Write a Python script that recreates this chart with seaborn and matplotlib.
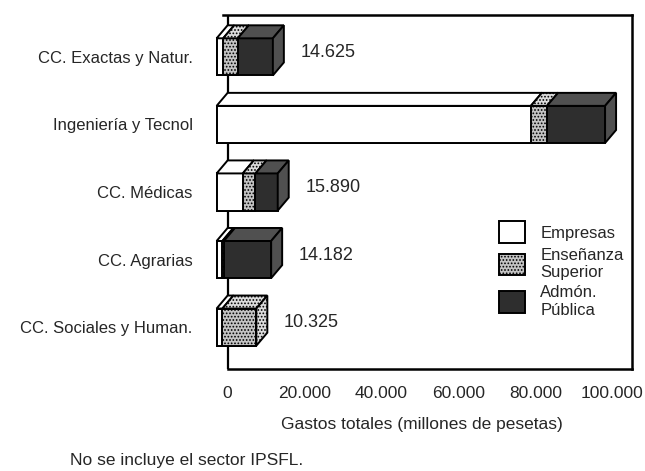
import numpy as np
import pandas as pd
import seaborn as sns
import matplotlib
matplotlib.use("Agg")
import matplotlib.pyplot as plt
from matplotlib.patches import Polygon, Patch
from matplotlib.transforms import ScaledTranslation

# data (millones de pesetas)
categorias = ["CC. Exactas y Natur.", "Ingeniería y Tecnol", "CC. Médicas",
              "CC. Agrarias", "CC. Sociales y Human."]
empresas = [1700, 81700, 6800, 1500, 1500]
ensenanza = [3800, 4200, 3300, 400, 8825]
admon = [9125, 15100, 5790, 12282, 0]
etiquetas = ["14.625", "", "15.890", "14.182", "10.325"]
xticks = [0, 20000, 40000, 60000, 80000, 100000]
xticklabels = ["0", "20.000", "40.000", "60.000", "80.000", "100.000"]
series = ["Empresas", "Enseñanza\nSuperior", "Admón.\nPública"]

colores = ["white", "#c4c4c4", "#2e2e2e"]
tapas = ["white", "#dcdcdc", "#505050"]

sns.set_style("white")
plt.rcParams['font.family'] = ['Liberation Sans', 'DejaVu Sans']
plt.rcParams['hatch.color'] = "#7a7a7a"
plt.rcParams['hatch.linewidth'] = 0.8

df = pd.DataFrame({"cat": categorias, "emp": empresas, "ens": ensenanza, "adm": admon})
df["c1"] = df["emp"]
df["c2"] = df["emp"] + df["ens"]
df["c3"] = df["c2"] + df["adm"]

fig = plt.figure(figsize=(6.45, 4.71), dpi=100)
ax = fig.add_axes([212/645, (471-369)/471, (632-212)/645, 354/471])
W = 0.55

# stacked bars, drawn from total down
for col, c, h in [("c3", colores[2], None), ("c2", colores[1], "....."), ("c1", colores[0], None)]:
    sns.barplot(data=df, x=col, y="cat", orient="h", color=c, width=W,
                edgecolor="black", linewidth=1.4, hatch=h, ax=ax, zorder=3,
                saturation=1)

ax.set_xlim(-1200, 108000)
ax.set_ylim(4.62, -0.62)

# 3D depth (pixels -> data)
fig.canvas.draw()
px_x = ax.bbox.width / (ax.get_xlim()[1] - ax.get_xlim()[0])
px_y = ax.bbox.height / (ax.get_ylim()[0] - ax.get_ylim()[1])
dx = 11 / px_x
dy = 13 / px_y

for i in range(len(categorias)):
    bordes = [0, df["c1"][i], df["c2"][i], df["c3"][i]]
    yt = i - W / 2
    yb = i + W / 2
    for k in range(3):
        a, b = bordes[k], bordes[k + 1]
        if b - a <= 0:
            continue
        top = Polygon([(a, yt), (b, yt), (b + dx, yt - dy), (a + dx, yt - dy)],
                      closed=True, facecolor=tapas[k], edgecolor="black", lw=1.4,
                      hatch="....." if k == 1 else None, zorder=4)
        ax.add_patch(top)
    T = bordes[-1]
    kl = max(k for k in range(3) if bordes[k + 1] - bordes[k] > 0)
    side = Polygon([(T, yt), (T + dx, yt - dy), (T + dx, yb - dy), (T, yb)],
                   closed=True, facecolor=tapas[kl] if kl != 0 else "white",
                   edgecolor="black", lw=1.4, hatch="....." if kl == 1 else None, zorder=4)
    ax.add_patch(side)
    if etiquetas[i]:
        ax.annotate(etiquetas[i], (T, i), xytext=(20, 3), textcoords="offset points",
                    fontsize=13, va="center", ha="left")

# back wall line at x=0
ax.plot([dx, dx], [4.62, -0.62], color="black", lw=1.6, zorder=1)

for s in ["top", "right", "bottom"]:
    ax.spines[s].set_visible(True)
    ax.spines[s].set_color("black")
    ax.spines[s].set_linewidth(1.8)
ax.spines["left"].set_visible(False)
ax.spines["bottom"].set_bounds(dx, ax.get_xlim()[1])
ax.spines["top"].set_bounds(dx * 0.6, ax.get_xlim()[1])

ax.set_xticks(xticks)
ax.set_xticklabels(xticklabels, fontsize=12.5)
ax.tick_params(axis="x", length=0, pad=12)
ax.tick_params(axis="y", length=0, pad=14, labelsize=12)
shift = ScaledTranslation(11/100, 0, fig.dpi_scale_trans)
for lab in ax.get_xticklabels():
    lab.set_transform(lab.get_transform() + shift)
ax.set_ylabel("")
ax.set_xlabel("Gastos totales (millones de pesetas)", fontsize=12.5, labelpad=12)

handles = [Patch(facecolor=colores[0], edgecolor="black", lw=1.4),
           Patch(facecolor=colores[1], edgecolor="black", lw=1.4, hatch="....."),
           Patch(facecolor=colores[2], edgecolor="black", lw=1.4)]
ax.legend(handles, series, loc="upper left", bbox_to_anchor=(0.655, 0.45),
          frameon=False, fontsize=12, handlelength=1.6, handleheight=1.6,
          labelspacing=0.3, handletextpad=0.9, borderpad=0.2)

fig.text(70/645, 1 - 460/471, "No se incluye el sector IPSFL.", fontsize=12.5,
         va="center", ha="left")

fig.savefig("out.png", dpi=100)
